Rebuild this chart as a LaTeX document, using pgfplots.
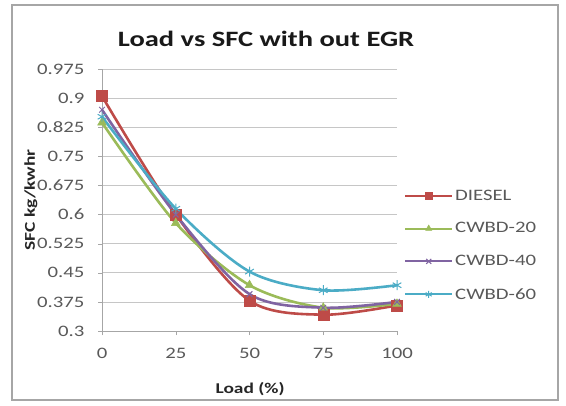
\documentclass[border=0pt]{standalone}
\usepackage{pgfplots}
\pgfplotsset{compat=1.18}
\usepackage{fontspec}
\setmainfont{Carlito}[FakeStretch=1.3]
\definecolor{cdiesel}{HTML}{BE4B48}
\definecolor{cw20}{HTML}{9BBB59}
\definecolor{cw40}{HTML}{8064A2}
\definecolor{cw60}{HTML}{4BACC6}
\definecolor{tickgray}{HTML}{595959}
\begin{document}
\begin{tikzpicture}[x=1bp,y=1bp]
\fill[white] (0,0) rectangle (566,405);
\draw[gray!70, line width=1.5bp] (12,5) rectangle (558,400);
\node[font=\bfseries\fontsize{22}{26}\selectfont, text=black!90] at (266,366) {Load vs SFC with out EGR};
\begin{axis}[
  at={(102bp,74bp)}, anchor=south west,
  scale only axis, width=295bp, height=262bp,
  xmin=0, xmax=100, ymin=0.3, ymax=0.975,
  xtick={0,25,50,75,100},
  ytick={0.3,0.375,0.45,0.525,0.6,0.675,0.75,0.825,0.9,0.975},
  yticklabels={0.3,0.375,0.45,0.525,0.6,0.675,0.75,0.825,0.9,0.975},
  axis x line*=bottom, axis y line*=left,
  axis line style={gray!70, -},
  ymajorgrids, grid style={gray!45, line width=0.7pt},
  tick style={gray!70},
  tick align=outside, major tick length=4bp,
  ticklabel style={font=\fontsize{16}{18}\selectfont, text=tickgray},
  xticklabel style={yshift=-10bp},
  yticklabel style={xshift=-10bp},
  /pgf/number format/assume math mode=true,
  xlabel={\textbf{Load (\%)}}, ylabel={\textbf{SFC kg/kwhr}},
  label style={font=\fontsize{15}{17}\selectfont, text=black!85},
  xlabel style={at={(rel axis cs:0.502,-0.221)}, anchor=center},
  ylabel style={at={(rel axis cs:-0.241,0.500)}, anchor=center},
  clip=false,
  legend style={draw=none, fill=none, at={(rel axis cs:1.017,0.555)}, anchor=north west,
    font=\fontsize{16}{18}\selectfont, text=tickgray, row sep=17bp,
    inner xsep=2bp, nodes={inner xsep=2bp}},
  legend cell align=left,
  legend image code/.code={%
    \draw[#1, line width=2pt, mark=none] (0bp,0bp) -- (47bp,0bp);
    \draw[#1, mark size=3.5bp, line width=0.6pt] plot coordinates {(23.5bp,0bp)};
  },
  every axis plot/.append style={line width=2.6pt},
]
\addplot[cdiesel, smooth, mark=square*, mark size=5.5bp, mark options={fill=cdiesel, line width=0.5pt}] coordinates {(0,0.905) (25,0.600) (50,0.378) (75,0.342) (100,0.366)};
\addlegendentry{DIESEL}
\addplot[cw20, smooth, mark=triangle*, mark size=5bp, mark options={fill=cw20, line width=0.5pt}] coordinates {(0,0.837) (25,0.578) (50,0.418) (75,0.360) (100,0.370)};
\addlegendentry{CWBD-20}
\addplot[cw40, smooth, mark=x, mark size=4bp, mark options={line width=1pt}] coordinates {(0,0.870) (25,0.600) (50,0.395) (75,0.360) (100,0.375)};
\addlegendentry{CWBD-40}
\addplot[cw60, smooth, mark=asterisk, mark size=5bp, mark options={line width=1pt}] coordinates {(0,0.852) (25,0.615) (50,0.453) (75,0.405) (100,0.418)};
\addlegendentry{CWBD-60}
\end{axis}
\end{tikzpicture}
\end{document}
